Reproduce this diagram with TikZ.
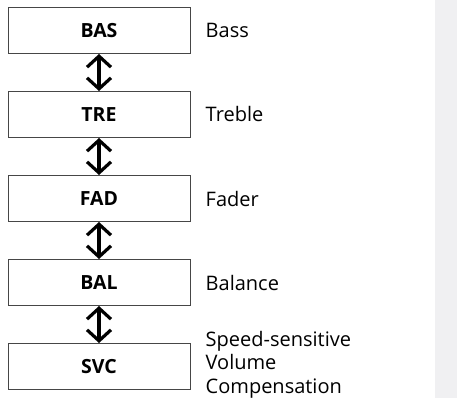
\documentclass[tikz,border=0pt]{standalone}
\usepackage{fontspec}
\setmainfont{Open Sans}
\usetikzlibrary{positioning,arrows.meta}

\definecolor{boxline}{RGB}{70,70,70}
\definecolor{stripgray}{RGB}{240,240,242}

\tikzset{
  modebox/.style={
    rectangle,
    draw=boxline,
    line width=1pt,
    minimum width=182pt,
    minimum height=46pt,
    font=\fontsize{19.5}{22}\selectfont\bfseries
  },
  modetext/.style={
    right=15pt of #1,
    align=left,
    inner sep=0pt,
    font=\fontsize{20}{23.5}\selectfont
  },
  updown/.style={
    {Straight Barb[length=11pt,width=24pt,line width=3.2pt]}-{Straight Barb[length=11pt,width=24pt,line width=3.2pt]},
    line width=3.2pt
  }
}

\begin{document}
\begin{tikzpicture}
  \useasboundingbox (0,0) rectangle (457pt,-398pt);
  \fill[stripgray] (435pt,0) rectangle (457pt,-398pt);

  \node[modebox] (bas) at (99pt,-30.5pt) {BAS};
  \node[modebox, below=37pt of bas] (tre) {TRE};
  \node[modebox, below=37pt of tre] (fad) {FAD};
  \node[modebox, below=37pt of fad] (bal) {BAL};
  \node[modebox, below=37pt of bal] (svc) {SVC};

  \node[modetext=bas] (bass) {Bass};
  \node[modetext=tre] (treble) {Treble};
  \node[modetext=fad] (fader) {Fader};
  \node[modetext=bal] (balance) {Balance};
  \node[modetext=svc, yshift=2pt] (comp) {Speed-sensitive\\Volume\\Compensation};

  \draw[updown] (bas) -- (tre);
  \draw[updown] (tre) -- (fad);
  \draw[updown] (fad) -- (bal);
  \draw[updown] (bal) -- (svc);
\end{tikzpicture}
\end{document}
